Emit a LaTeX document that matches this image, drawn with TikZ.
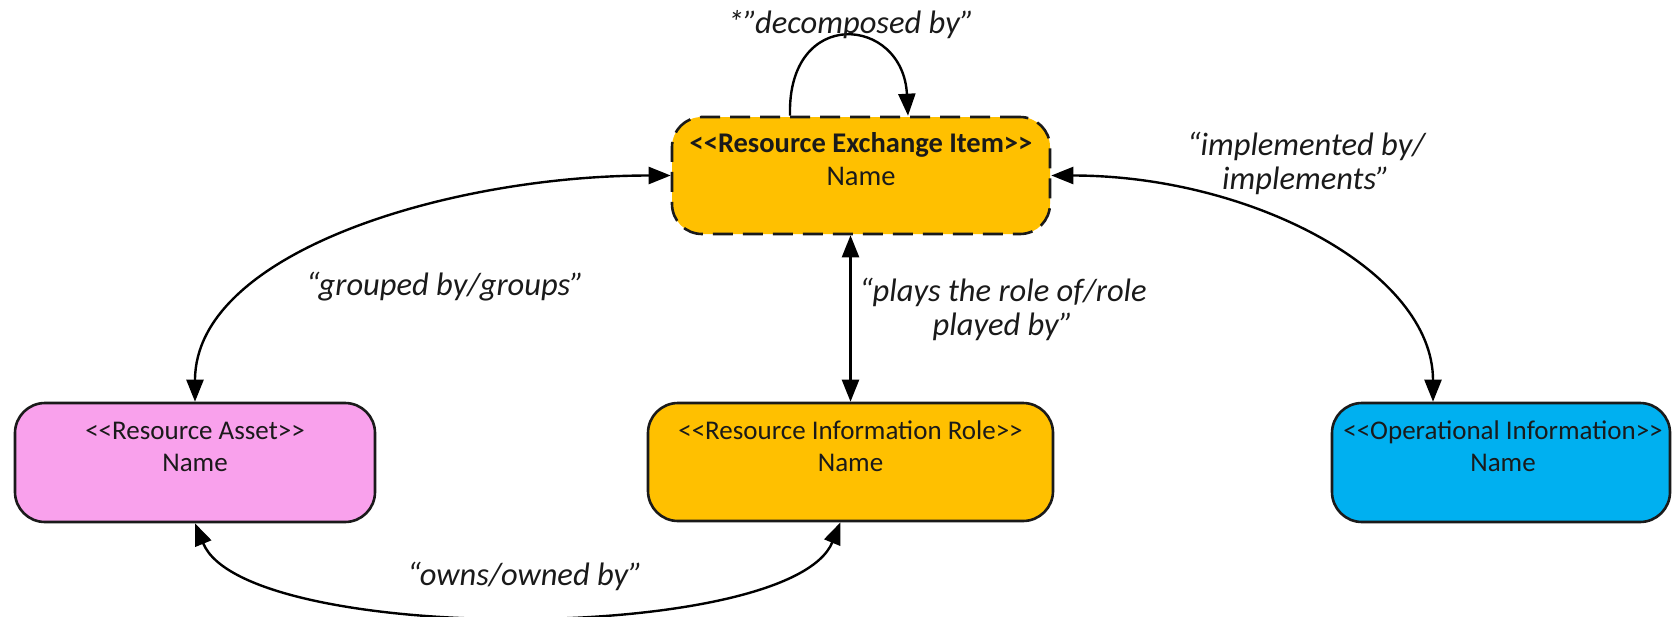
\documentclass[tikz,border=0pt]{standalone}
\usepackage{fontspec}
\setmainfont{Carlito}[Ligatures=TeXOff]
\usetikzlibrary{arrows.meta,calc}
\definecolor{gold}{HTML}{FFC000}
\definecolor{assetpink}{HTML}{F9A1EC}
\definecolor{skyblue}{HTML}{00B0F0}
\definecolor{ink}{HTML}{1A1A1A}

\begin{document}
\begin{tikzpicture}[x=1pt,y=-1pt,
  entity/.style={draw=ink, line width=2.6pt, rounded corners=30pt, inner sep=0pt},
  exchange/.style={entity, dash pattern=on 20pt off 10pt},
  boxtext/.style={align=center, font=\fontsize{27}{32}\selectfont, text=ink, inner sep=0pt},
  rel/.style={font=\fontsize{32.5}{34}\selectfont\itshape, text=ink, align=center, inner sep=0pt},
  conn/.style={draw=black, line width=2.4pt, >={Triangle[length=22pt,width=17pt]}},
]
\useasboundingbox (0,0) rectangle (1672,616);

% entity boxes
\node[exchange, fill=gold, minimum width=378pt, minimum height=117pt] (rei) at (861,175.5) {};
\node[entity, fill=assetpink, minimum width=360pt, minimum height=119pt] (ra) at (195,462.5) {};
\node[entity, fill=gold, minimum width=405pt, minimum height=118pt] (rir) at (850.5,462) {};
\node[entity, fill=skyblue, minimum width=338pt, minimum height=119pt] (oi) at (1501,462.5) {};

% entity captions
\node[boxtext, font=\fontsize{28.5}{33}\selectfont] (rei-t) at (861,159) {\textbf{<<Resource Exchange Item>>}\\Name};
\node[boxtext] (ra-t) at (195,447) {<<Resource Asset>>\\Name};
\node[boxtext] (rir-t) at (850.5,446) {<<Resource Information Role>>\\Name};
\node[boxtext] (oi-t) at (1503,446) {<<Operational Information>>\\Name};

% relationships
\draw[conn, ->] ([xshift=-71pt]rei.north) .. controls +(-3,-110) and +(-5,-100) .. ([xshift=47pt]rei.north);
\draw[conn, <->] (rei.west) .. controls +(-220,0) and +(0,-150) .. (ra.north);
\draw[conn, <->] (rei.east) .. controls +(200,0) and +(0,-130) .. ([xshift=-68pt]oi.north);
\draw[conn, <->] (rir.north |- rei.south) -- (rir.north);
\draw[conn, <->] (ra.south) .. controls +(50,122) and +(-50,122) .. ([xshift=-10pt]rir.south);

% relationship labels
\node[rel] (l-dec) at (851,25) {*”decomposed by”};
\node[rel] (l-grp) at (445,287) {“grouped by/groups”};
\node[rel] (l-play) at (1003,309) {“plays the role of/role\\played by”};
\node[rel] (l-impl) at (1306,163) {“implemented by/\\implements”};
\node[rel] (l-own) at (525,576) {“owns/owned by”};
\end{tikzpicture}
\end{document}
